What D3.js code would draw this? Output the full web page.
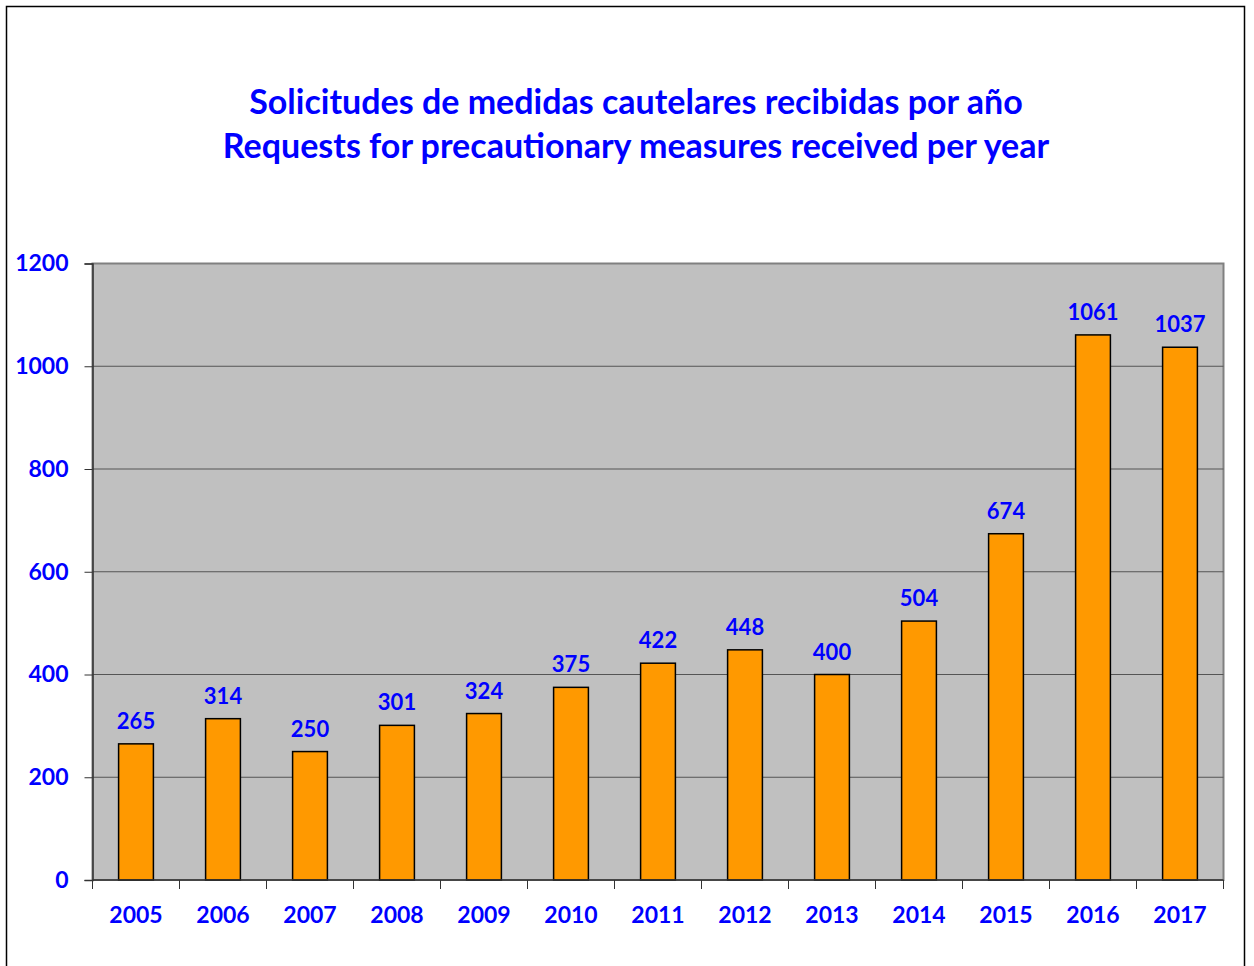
<!DOCTYPE html>
<html>
<head>
<meta charset="utf-8">
<script src="https://cdn.jsdelivr.net/npm/d3@7"></script>
<style>
  body { margin: 0; background: #fff; }
  svg { font-family: Lato, "Open Sans", sans-serif; }
</style>
</head>
<body>
<div id="chart"></div>
<script>
const years = ["2005", "2006", "2007", "2008", "2009", "2010", "2011", "2012", "2013", "2014", "2015", "2016", "2017"];
const requests = [265, 314, 250, 301, 324, 375, 422, 448, 400, 504, 674, 1061, 1037];
const yTicks = [0, 200, 400, 600, 800, 1000, 1200];
const titleLines = ["Solicitudes de medidas cautelares recibidas por año", "Requests for precautionary measures received per year"];

const W = 1254, H = 966;
const plot = { left: 92.5, top: 263.5, right: 1223.5, bottom: 880 };
const blue = "#0000ff";

const svg = d3.select("#chart").append("svg")
    .attr("width", W)
    .attr("height", H);

// outer frame
svg.append("rect")
    .attr("x", 6.5).attr("y", 6.5)
    .attr("width", 1238).attr("height", 980)
    .attr("fill", "#fff")
    .attr("stroke", "#000")
    .attr("stroke-width", 1.5);

// title
svg.append("g").selectAll("text")
    .data(titleLines)
    .join("text")
    .attr("x", 636)
    .attr("y", (d, i) => 114 + i * 44)
    .attr("text-anchor", "middle")
    .attr("fill", blue)
    .attr("font-weight", "bold")
    .attr("font-size", 34)
    .text(d => d);

let x = d3.scaleBand()
    .domain(years)
    .range([plot.left, plot.right])
    .paddingInner(0.6)
    .paddingOuter(0.3);

let y = d3.scaleLinear()
    .domain([0, 1200])
    .range([plot.bottom, plot.top]);

// plot background
svg.append("rect")
    .attr("x", plot.left).attr("y", plot.top)
    .attr("width", plot.right - plot.left)
    .attr("height", plot.bottom - plot.top)
    .attr("fill", "#c0c0c0")
    .attr("stroke", "#808080")
    .attr("stroke-width", 2);

// gridlines
svg.append("g").selectAll("line")
    .data(yTicks.filter(d => d > 0 && d < 1200))
    .join("line")
    .attr("x1", plot.left).attr("x2", plot.right)
    .attr("y1", d => y(d)).attr("y2", d => y(d))
    .attr("stroke", "#555")
    .attr("stroke-width", 1.2);

// bars
svg.append("g").selectAll("rect")
    .data(requests)
    .join("rect")
    .attr("x", (d, i) => x(years[i]))
    .attr("y", d => y(d))
    .attr("width", x.bandwidth())
    .attr("height", d => plot.bottom - y(d))
    .attr("fill", "#ff9900")
    .attr("stroke", "#000")
    .attr("stroke-width", 1.5);

// value labels
svg.append("g").selectAll("text")
    .data(requests)
    .join("text")
    .attr("x", (d, i) => x(years[i]) + x.bandwidth() / 2)
    .attr("y", d => y(d) - 15)
    .attr("text-anchor", "middle")
    .attr("fill", blue)
    .attr("font-weight", "bold")
    .attr("font-size", 22)
    .text(d => d);

// y axis
let yAxis = svg.append("g")
    .attr("transform", `translate(${plot.left},0)`)
    .call(d3.axisLeft(y).tickValues(yTicks).tickFormat(d3.format("d")).tickSize(8).tickPadding(16));
yAxis.select(".domain").attr("stroke", "#333").attr("stroke-width", 1.5);
yAxis.selectAll(".tick line").attr("stroke", "#333");
yAxis.selectAll(".tick text")
    .attr("fill", blue)
    .attr("font-weight", "bold")
    .attr("font-size", 23)
    .attr("font-family", "Lato, sans-serif");

// x axis with ticks between categories
let xAxis = svg.append("g")
    .attr("transform", `translate(0,${plot.bottom})`);
xAxis.append("line")
    .attr("x1", plot.left).attr("x2", plot.right)
    .attr("stroke", "#333").attr("stroke-width", 1.5);
let step = x.step();
xAxis.selectAll(".sep")
    .data(d3.range(years.length + 1))
    .join("line")
    .attr("class", "sep")
    .attr("x1", i => plot.left + i * step)
    .attr("x2", i => plot.left + i * step)
    .attr("y1", 0).attr("y2", 9)
    .attr("stroke", "#333");
xAxis.selectAll("text")
    .data(years)
    .join("text")
    .attr("x", d => x(d) + x.bandwidth() / 2)
    .attr("y", 43)
    .attr("text-anchor", "middle")
    .attr("fill", blue)
    .attr("font-weight", "bold")
    .attr("font-size", 23)
    .text(d => d);
</script>
</body>
</html>
